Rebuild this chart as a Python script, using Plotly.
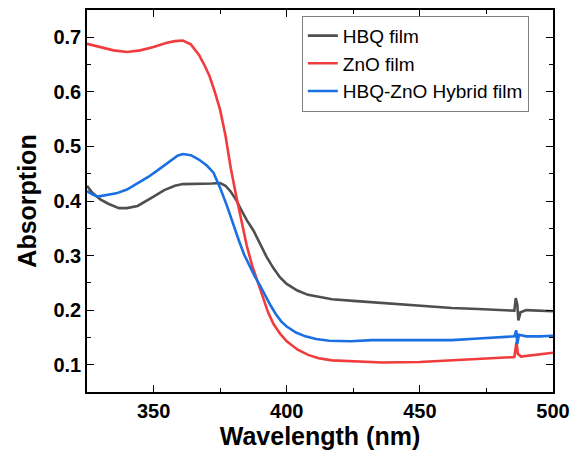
import plotly.graph_objects as go

# HBQ film
hbq_wl = [325, 327, 330, 333, 337, 340, 344, 347, 350, 354, 358, 361, 365, 369, 372, 375, 377, 379, 381, 383,
          385, 387.5, 390, 392.5, 395, 397.5, 400, 404, 408, 412, 417, 425, 436, 450, 462, 472, 483, 485.5,
          486, 486.6, 487, 487.8, 490, 495, 500]
hbq_abs = [0.428, 0.415, 0.403, 0.395, 0.387, 0.387, 0.391, 0.399, 0.408, 0.420, 0.428, 0.431, 0.431, 0.431,
           0.432, 0.433, 0.428, 0.417, 0.402, 0.383, 0.365, 0.346, 0.322, 0.297, 0.277, 0.260, 0.248, 0.236,
           0.228, 0.224, 0.220, 0.217, 0.213, 0.209, 0.204, 0.202, 0.199, 0.199, 0.222, 0.210, 0.181, 0.196,
           0.200, 0.199, 0.198]

# ZnO film
zno_wl = [325, 330, 335, 340, 345, 350, 355, 358, 361, 364, 367, 369, 371, 373, 375, 377, 379, 381, 383, 385,
          387, 389, 391, 393, 395, 397.5, 400, 404, 408, 412, 417, 425, 436, 450, 462, 472, 483, 485.5, 486.3,
          486.8, 488, 493, 500]
zno_abs = [0.688, 0.682, 0.676, 0.673, 0.676, 0.682, 0.690, 0.693, 0.694, 0.687, 0.668, 0.650, 0.629, 0.600,
           0.567, 0.520, 0.460, 0.410, 0.365, 0.318, 0.282, 0.252, 0.222, 0.196, 0.175, 0.157, 0.143, 0.128,
           0.118, 0.112, 0.108, 0.106, 0.104, 0.105, 0.108, 0.110, 0.113, 0.114, 0.142, 0.120, 0.115, 0.118,
           0.122]

# HBQ-ZnO Hybrid film
hyb_wl = [325, 327, 329, 332, 336, 340, 344, 348, 352, 356, 359, 361, 364, 367, 370, 372.5, 374, 375, 377.5,
          380, 382, 384, 386, 388, 390, 392, 394, 396, 398, 400, 403.5, 407, 411, 416, 424, 432, 443, 452, 462,
          472, 483, 485.5, 486.2, 486.6, 487.2, 490, 495, 500]
hyb_abs = [0.418, 0.412, 0.408, 0.410, 0.414, 0.421, 0.432, 0.444, 0.458, 0.473, 0.483, 0.486, 0.484, 0.476,
           0.465, 0.452, 0.436, 0.424, 0.392, 0.355, 0.328, 0.302, 0.281, 0.262, 0.245, 0.226, 0.208, 0.192,
           0.179, 0.170, 0.159, 0.152, 0.147, 0.144, 0.143, 0.145, 0.145, 0.144, 0.145, 0.148, 0.152, 0.152,
           0.163, 0.138, 0.155, 0.152, 0.152, 0.153]

x_ticks = [350, 400, 450, 500]
y_ticks = [0.1, 0.2, 0.3, 0.4, 0.5, 0.6, 0.7]

fig = go.Figure()
fig.add_trace(go.Scatter(x=hbq_wl, y=hbq_abs, mode="lines", name="HBQ film",
                         line=dict(color="#4f4f4f", width=2.6)))
fig.add_trace(go.Scatter(x=zno_wl, y=zno_abs, mode="lines", name="ZnO film",
                         line=dict(color="#f03c3c", width=2.6)))
fig.add_trace(go.Scatter(x=hyb_wl, y=hyb_abs, mode="lines", name="HBQ-ZnO Hybrid film",
                         line=dict(color="#1a6fe3", width=2.6)))

axis_common = dict(showline=True, linecolor="black", linewidth=1.6, mirror="allticks",
                   ticks="inside", ticklen=7, tickwidth=1.4, tickcolor="black",
                   showgrid=False, zeroline=False, automargin=False,
                   tickfont=dict(family="Liberation Sans, Arial", size=20, color="black", weight="bold"))

fig.update_xaxes(range=[325, 500], tickvals=x_ticks, ticktext=[str(v) for v in x_ticks],
                 minor=dict(ticks="inside", ticklen=4, tickwidth=1.2, tickcolor="black", dtick=25, tick0=325),
                 title=dict(text="<b>Wavelength (nm)</b>", standoff=6,
                            font=dict(family="Liberation Sans, Arial", size=25, color="black")),
                 **axis_common)
fig.update_yaxes(range=[0.05, 0.75], tickvals=y_ticks, ticktext=[f"{v:.1f}" for v in y_ticks],
                 minor=dict(ticks="inside", ticklen=4, tickwidth=1.2, tickcolor="black", dtick=0.05, tick0=0.05),
                 title=dict(text="<b>Absorption</b>", standoff=10,
                            font=dict(family="Liberation Sans, Arial", size=25, color="black")),
                 **axis_common)

fig.update_layout(
    width=571, height=458,
    margin=dict(l=87, r=18, t=10, b=66),
    paper_bgcolor="white", plot_bgcolor="white",
    legend=dict(x=0.461, y=0.985, xanchor="left", yanchor="top",
                bordercolor="#7f7f7f", borderwidth=1, bgcolor="white",
                font=dict(family="Liberation Sans, Arial", size=19, color="black"),
                tracegroupgap=0, itemwidth=30),
    showlegend=True,
)

fig.write_html("out.html")
